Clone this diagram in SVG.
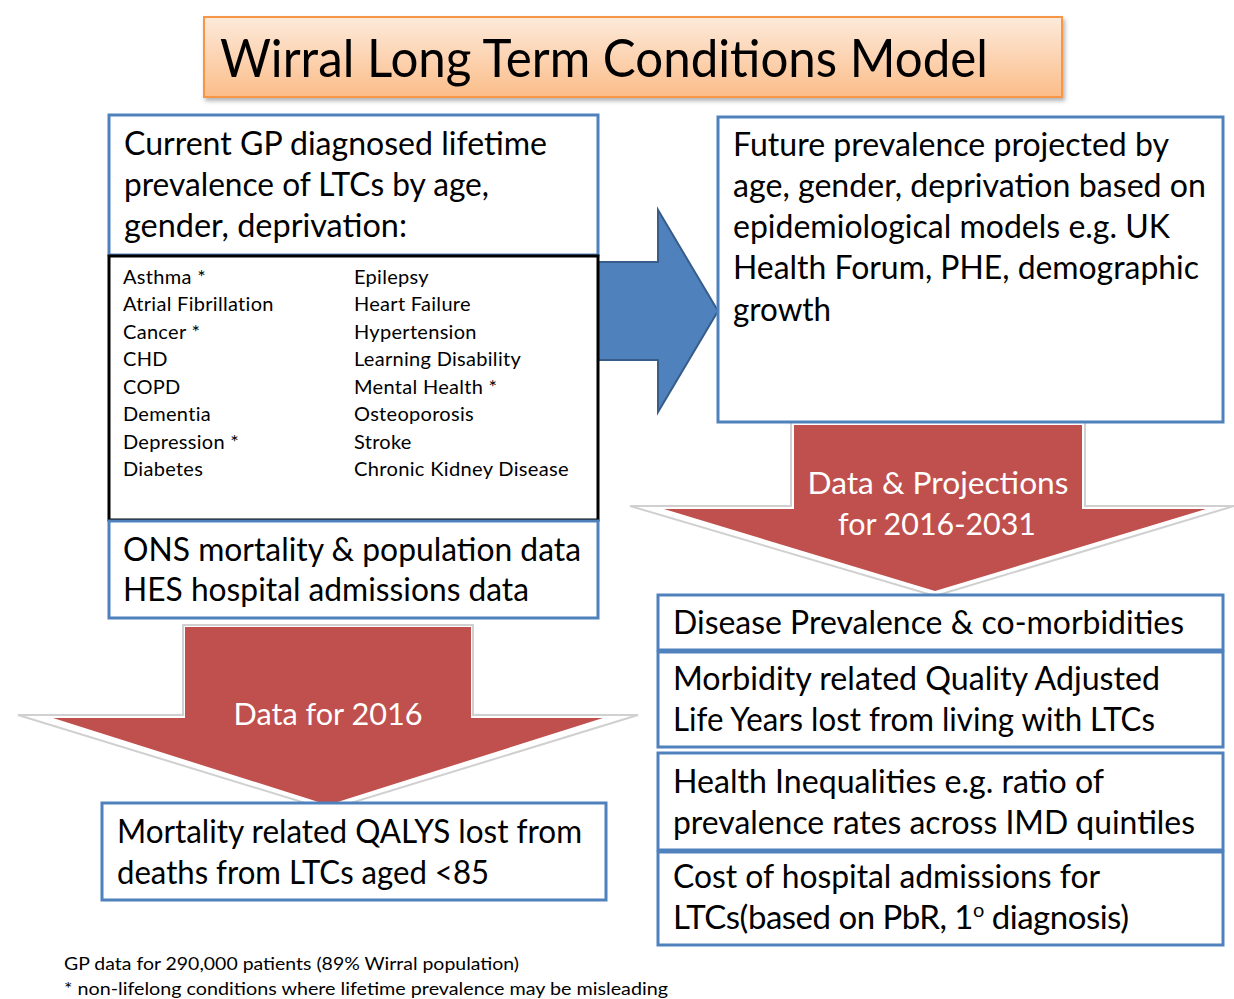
<svg xmlns="http://www.w3.org/2000/svg" width="1234" height="999" viewBox="0 0 1234 999">
<defs>
<linearGradient id="og" x1="0" y1="0" x2="0" y2="1">
<stop offset="0" stop-color="#fdeadb"/>
<stop offset="1" stop-color="#fbbd89"/>
</linearGradient>
<filter id="sh" x="-5%" y="-5%" width="110%" height="120%">
<feDropShadow dx="2" dy="3" stdDeviation="2" flood-color="#000" flood-opacity="0.3"/>
</filter>
</defs>
<style>
text{font-family:Lato,"Open Sans","Liberation Sans",sans-serif;fill:#000}
.box{fill:#fff;stroke:#4f81bd;stroke-width:3}
.big{font-size:33px}
.lst{font-size:20px;letter-spacing:0.3px}
.ft{font-size:18px}
.wt{fill:#fff;font-size:30px}
.red{fill:#c0504d}
.halo{fill:#fff;stroke:#d0d0d0;stroke-width:2}
</style>
<rect width="1234" height="999" fill="#fff"/>

<g id="title" filter="url(#sh)">
<rect x="204" y="17" width="858" height="80" fill="url(#og)" stroke="#f79646" stroke-width="2"/>
<text x="220" y="77" font-size="52" textLength="768" lengthAdjust="spacingAndGlyphs">Wirral Long Term Conditions Model</text>
</g>

<g id="connectors">
<g id="arrow-right">
<polygon points="598,262 658,262 658,210 718,311 658,412 658,360 598,360" fill="#4f81bd" stroke="#385d8a" stroke-width="2"/>
</g>
<g id="arrow-left-down">
<polygon class="halo" points="183,625 473,625 473,715 638,715 328,810 18,715 183,715"/>
<polygon class="red" points="185,627 471,627 471,718 603,718 328,805 53,718 185,718"/>
<text class="wt" x="328" y="725" text-anchor="middle" textLength="189" lengthAdjust="spacingAndGlyphs">Data for 2016</text>
</g>
<g id="arrow-right-down">
<polygon class="halo" points="791,422 1085,422 1085,506 1234,506 935,596 630,506 791,506"/>
<polygon class="red" points="794,425 1082,425 1082,509 1206,509 935,591 664,509 794,509"/>
<text class="wt" x="938" y="494" text-anchor="middle" textLength="261" lengthAdjust="spacingAndGlyphs">Data &amp; Projections</text>
<text class="wt" x="937" y="535" text-anchor="middle" textLength="198" lengthAdjust="spacingAndGlyphs">for 2016-2031</text>
</g>
</g>

<g id="gp-prevalence">
<rect class="box" x="109" y="115" width="489" height="140"/>
<text class="big" x="124" y="155" textLength="423" lengthAdjust="spacingAndGlyphs">Current GP diagnosed lifetime</text>
<text class="big" x="124" y="196" textLength="365" lengthAdjust="spacingAndGlyphs">prevalence of LTCs by age,</text>
<text class="big" x="124" y="237" textLength="283" lengthAdjust="spacingAndGlyphs">gender, deprivation:</text>
</g>

<g id="conditions-list">
<rect x="109" y="256" width="489" height="264" fill="#fff" stroke="#000" stroke-width="3"/>
<text class="lst" x="123" y="284">Asthma  *</text>
<text class="lst" x="123" y="311">Atrial Fibrillation</text>
<text class="lst" x="123" y="339">Cancer  *</text>
<text class="lst" x="123" y="366">CHD</text>
<text class="lst" x="123" y="394">COPD</text>
<text class="lst" x="123" y="421">Dementia</text>
<text class="lst" x="123" y="449">Depression  *</text>
<text class="lst" x="123" y="476">Diabetes</text>
<text class="lst" x="354" y="284">Epilepsy</text>
<text class="lst" x="354" y="311">Heart Failure</text>
<text class="lst" x="354" y="339">Hypertension</text>
<text class="lst" x="354" y="366">Learning Disability</text>
<text class="lst" x="354" y="394">Mental Health  *</text>
<text class="lst" x="354" y="421">Osteoporosis</text>
<text class="lst" x="354" y="449">Stroke</text>
<text class="lst" x="354" y="476" textLength="215" lengthAdjust="spacingAndGlyphs">Chronic Kidney Disease</text>
</g>

<g id="ons-hes">
<rect class="box" x="109" y="521" width="489" height="97"/>
<text class="big" x="123" y="561" textLength="458" lengthAdjust="spacingAndGlyphs">ONS mortality &amp; population data</text>
<text class="big" x="123" y="601" textLength="406" lengthAdjust="spacingAndGlyphs">HES hospital admissions data</text>
</g>

<g id="future-prevalence">
<rect class="box" x="718" y="117" width="505" height="305"/>
<text class="big" x="733" y="156" textLength="436" lengthAdjust="spacingAndGlyphs">Future prevalence projected by</text>
<text class="big" x="733" y="197" textLength="473" lengthAdjust="spacingAndGlyphs">age, gender, deprivation based on</text>
<text class="big" x="733" y="238" textLength="437" lengthAdjust="spacingAndGlyphs">epidemiological models e.g. UK</text>
<text class="big" x="733" y="279" textLength="466" lengthAdjust="spacingAndGlyphs">Health Forum, PHE, demographic</text>
<text class="big" x="733" y="321" textLength="98" lengthAdjust="spacingAndGlyphs">growth</text>
</g>

<g id="mortality-qalys">
<rect class="box" x="102" y="803" width="504" height="97"/>
<text class="big" x="117" y="843" textLength="465" lengthAdjust="spacingAndGlyphs">Mortality related QALYS lost from</text>
<text class="big" x="117" y="884" textLength="372" lengthAdjust="spacingAndGlyphs">deaths from LTCs aged &lt;85</text>
</g>

<g id="disease-prevalence">
<rect class="box" x="658" y="595" width="565" height="55"/>
<text class="big" x="673" y="634" textLength="511" lengthAdjust="spacingAndGlyphs">Disease Prevalence &amp; co-morbidities</text>
</g>

<g id="morbidity-qalys">
<rect class="box" x="658" y="652" width="565" height="95"/>
<text class="big" x="673" y="690" textLength="487" lengthAdjust="spacingAndGlyphs">Morbidity related Quality Adjusted</text>
<text class="big" x="673" y="731" textLength="482" lengthAdjust="spacingAndGlyphs">Life Years lost from living with LTCs</text>
</g>

<g id="health-inequalities">
<rect class="box" x="658" y="753" width="565" height="97"/>
<text class="big" x="673" y="793" textLength="431" lengthAdjust="spacingAndGlyphs">Health Inequalities e.g. ratio of</text>
<text class="big" x="673" y="834" textLength="522" lengthAdjust="spacingAndGlyphs">prevalence rates across IMD quintiles</text>
</g>

<g id="hospital-cost">
<rect class="box" x="658" y="852" width="565" height="93"/>
<text class="big" x="673" y="888" textLength="427" lengthAdjust="spacingAndGlyphs">Cost of hospital admissions for</text>
<text class="big" x="673" y="929" letter-spacing="-0.5">LTCs(based on PbR, 1<tspan font-size="20" dy="-12">o</tspan><tspan dy="12"> diagnosis)</tspan></text>
</g>

<g id="footnotes">
<text class="ft" x="64" y="970" textLength="455" lengthAdjust="spacingAndGlyphs">GP data for 290,000 patients (89% Wirral population)</text>
<text class="ft" x="64" y="995" textLength="604" lengthAdjust="spacingAndGlyphs">* non-lifelong conditions where lifetime prevalence may be misleading</text>
</g>
</svg>
